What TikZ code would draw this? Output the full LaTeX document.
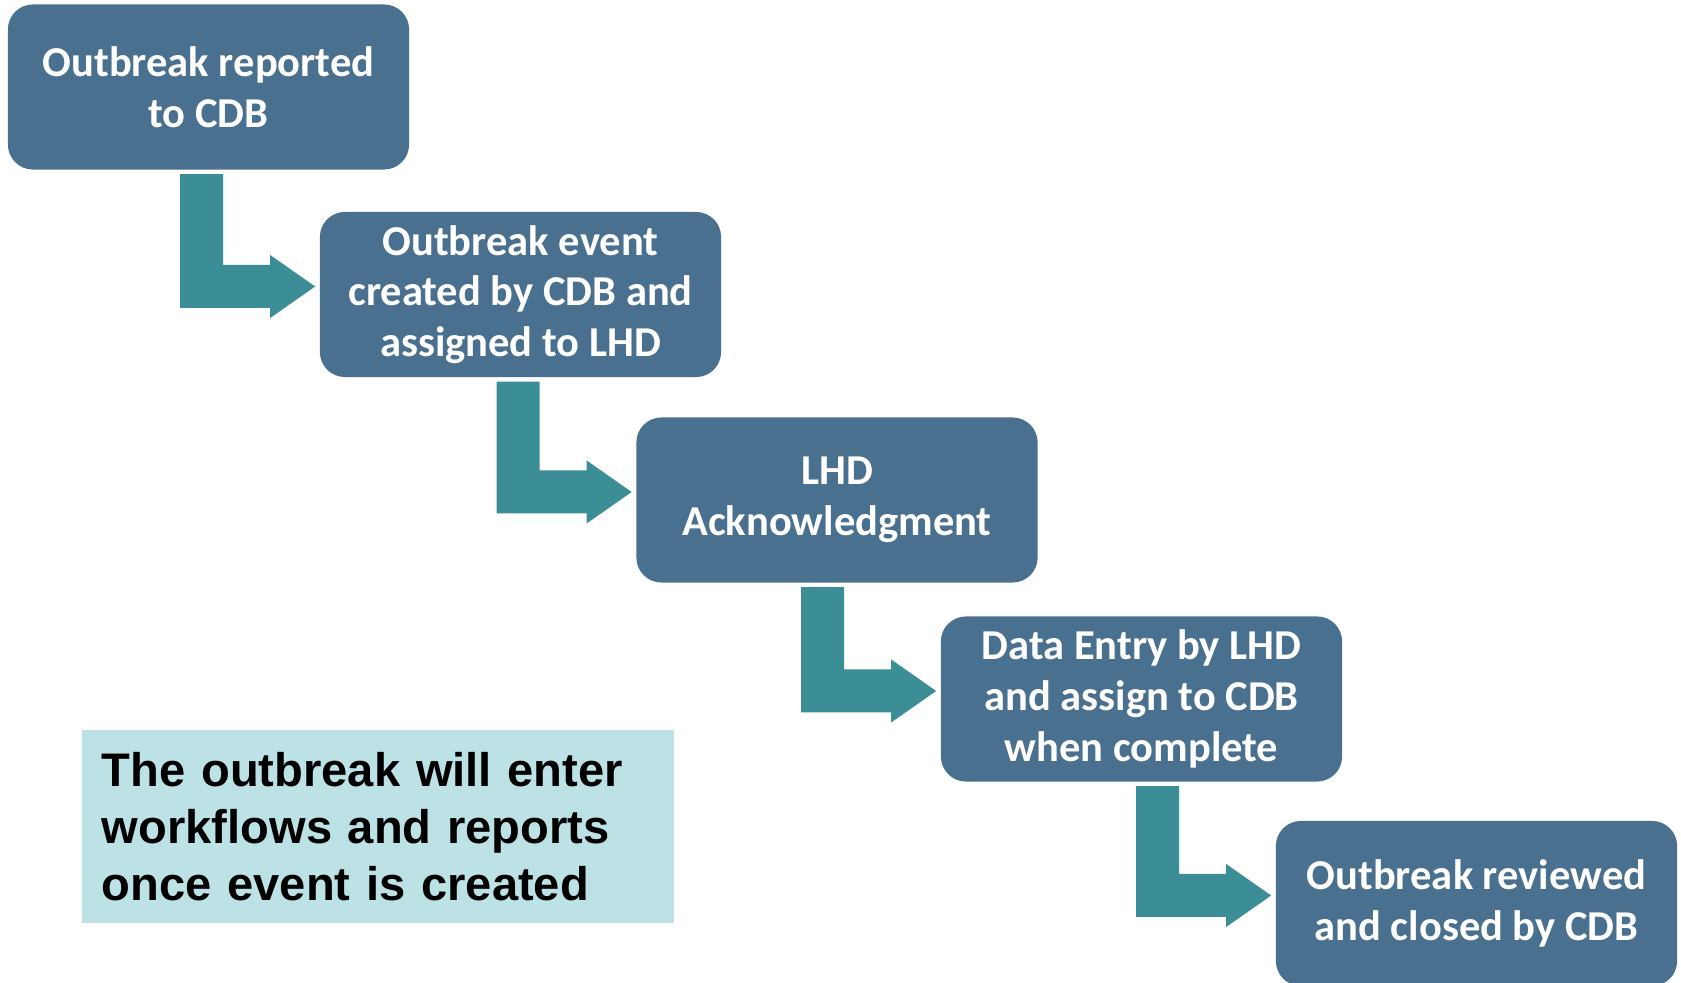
\documentclass[tikz,border=0pt]{standalone}
\usepackage{fontspec}
\setmainfont{Carlito}
\newfontfamily\notefont{Liberation Sans}
\usetikzlibrary{calc}
\definecolor{stepblue}{RGB}{74,112,143}
\definecolor{stepteal}{RGB}{59,142,149}
\definecolor{notecyan}{RGB}{189,226,230}
\begin{document}
\begin{tikzpicture}[x=0.01cm,y=-0.01cm]
            \tikzset{
            wf node/.style={rectangle,rounded corners=0.25cm,fill=stepblue,text=white,
              minimum width=4.01cm,minimum height=1.65cm,align=center,inner sep=0,
              font=\fontsize{12.1}{14.4}\selectfont\bfseries},
            wf arrow/.style={fill=stepteal,draw=none},
            wf note/.style={rectangle,fill=notecyan,minimum width=5.92cm,minimum height=1.93cm,
              text width=5.52cm,align=left,inner xsep=0.2cm,inner ysep=0,
              font=\notefont\fontsize{13.4}{16.2}\selectfont\bfseries}
            }
            \useasboundingbox (0,0) rectangle (1681,983);

            \node[wf node] (1) at (208.5, 87) {Outbreak reported\\to CDB};
            \node[wf node] (2) at (520.5, 294.5) {Outbreak event\\created by CDB and\\assigned to LHD};
            \node[wf node] (3) at (837, 500) {LHD\\Acknowledgment};
            \node[wf node] (4) at (1141.5, 699) {Data Entry by LHD\\and assign to CDB\\when complete};
            \node[wf node] (5) at (1476.5, 903.5) {Outbreak reviewed\\and closed by CDB};

            \node[wf note] (note) at (378, 826.5) {The outbreak will enter\\workflows and reports\\once event is created};

            % bent arrows from one step to the next
            \foreach \a/\b in {1/2,2/3,3/4,4/5}{
            \fill[wf arrow]
              ($(\a.south -| \b.west)+(-139,4)$) -- ($(\a.south -| \b.west)+(-96,4)$)
              -- ($(\b.west)+(-96,-29.5)$) -- ($(\b.west)+(-49,-29.5)$)
              -- ($(\b.west)+(-49,-39.5)$) -- ($(\b.west)+(-4,-8)$)
              -- ($(\b.west)+(-49,23.5)$) -- ($(\b.west)+(-49,13.5)$)
              -- ($(\b.west)+(-139,13.5)$) -- cycle;
            }
        \end{tikzpicture}
\end{document}
